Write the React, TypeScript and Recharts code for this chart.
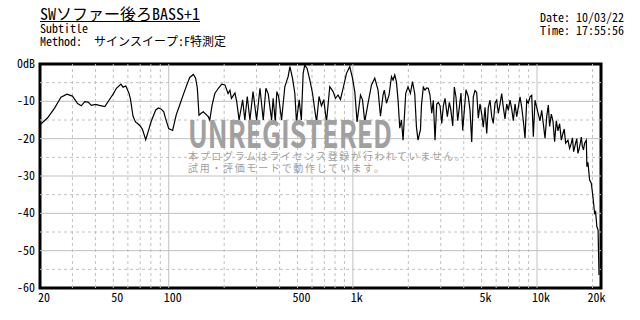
import { LineChart, Line, XAxis, YAxis, ReferenceLine, ReferenceArea } from 'recharts'

// frequency (Hz) / level (dB), grouped 10 per line
const freqs = [
  20, 22, 24, 25, 26, 28, 30, 32, 33.5, 35,
  36.5, 38, 40, 42, 45, 48, 50, 52, 55, 56.5,
  58.5, 61, 62, 64, 66, 68, 70, 72, 75, 78,
  80, 85, 88, 91, 94, 96, 100, 105, 110, 113,
  120, 125, 130, 136, 140, 143, 146, 150, 154, 164,
  167, 172, 178, 186, 194, 202, 210, 215, 219, 229,
  234, 241, 252, 259, 267, 276, 287, 300, 313, 326,
  337, 347, 362, 369, 379, 386.5, 395, 410, 427, 445,
  455, 470, 484, 494, 511, 525, 537, 548, 564, 584,
  604, 621, 635, 655, 675, 695, 719, 749, 781, 804,
  831, 856, 885, 923, 962, 995, 1024, 1054, 1100, 1128,
  1160, 1209, 1262, 1315, 1370, 1412, 1458, 1481, 1522, 1572,
  1620, 1652, 1688, 1724, 1759, 1797, 1835, 1873, 1936, 1993,
  2054, 2106, 2167, 2214, 2258, 2329, 2358, 2412, 2464, 2517,
  2568, 2623, 2680, 2734, 2793, 2853, 2911, 2974, 3038, 3099,
  3165, 3258, 3340, 3399, 3485, 3555, 3631, 3709, 3784, 3865,
  3948, 4028, 4115, 4235, 4326, 4419, 4508, 4605, 4703, 4799,
  4901, 5007, 5108, 5218, 5330, 5438, 5555, 5674, 5789, 5913,
  6039, 6162, 6295, 6430, 6560, 6701, 6845, 6983, 7134, 7287,
  7434, 7593, 7756, 7913, 8084, 8257, 8424, 8604, 8789, 8967,
  9160, 9357, 9546, 9750, 9959, 10160, 10380, 10602, 10817, 11049,
  11286, 11514, 11706, 11957, 12199, 12460, 12727, 12985, 13263, 13547,
  13821, 14050, 14297, 14715, 15030, 15353, 15570, 15800, 16199, 16430,
  16672, 16920, 17178, 17400, 17613, 17870, 18127, 18516, 18656, 18890,
  19295, 19708, 20107, 20541, 20798, 21135, 21455, 21700,
]

const levels = [
  -16.3, -14.4, -11.8, -10.3, -8.9, -8.1, -8.6, -10.6, -11.2, -10.1,
  -10.2, -11.1, -10.8, -11.1, -11.4, -9.3, -8.0, -6.5, -5.4, -6.2,
  -5.9, -8.0, -9.5, -14.0, -15.5, -16.0, -16.6, -17.5, -20.3, -17.5,
  -15.6, -12.3, -11.8, -12.1, -12.8, -14.5, -17.3, -17.8, -13.5, -11.9,
  -8.2, -5.8, -3.6, -2.8, -3.8, -6.5, -13.7, -13.2, -12.8, -14.1,
  -15.0, -11.0, -7.9, -6.5, -5.4, -5.6, -7.9, -7.0, -9.2, -7.8,
  -10.1, -15.0, -9.6, -15.0, -8.7, -15.0, -7.4, -15.0, -6.5, -15.0,
  -6.5, -8.0, -15.0, -9.2, -15.5, -7.4, -8.7, -15.0, -6.1, -3.4,
  -0.7, -3.8, -7.9, -15.5, -9.6, -15.0, -2.5, -0.3, -1.2, -4.3,
  -7.9, -12.3, -15.5, -8.7, -11.2, -9.6, -15.5, -6.1, -7.4, -9.2,
  -8.3, -9.5, -6.5, -2.5, -0.7, -3.8, -7.4, -15.5, -8.3, -9.6,
  -15.5, -10.5, -5.6, -3.8, -7.0, -14.0, -8.3, -7.0, -10.5, -8.3,
  -3.4, -4.3, -2.9, -4.8, -9.6, -17.2, -15.0, -20.4, -7.9, -6.1,
  -7.9, -4.7, -7.9, -16.9, -20.4, -17.5, -11.0, -6.2, -7.0, -6.4,
  -6.5, -8.3, -13.2, -9.7, -20.4, -10.7, -10.3, -11.2, -15.9, -11.2,
  -9.2, -14.1, -10.3, -12.1, -16.6, -6.2, -8.9, -15.2, -11.6, -7.8,
  -17.8, -12.4, -6.9, -8.8, -12.4, -20.9, -8.8, -7.1, -7.6, -14.5,
  -10.7, -13.4, -16.9, -11.6, -18.6, -11.6, -9.7, -14.1, -15.9, -10.5,
  -9.7, -13.2, -10.7, -7.9, -11.6, -14.7, -10.7, -12.4, -9.7, -12.0,
  -15.2, -10.7, -14.1, -11.6, -8.8, -11.6, -15.2, -19.9, -9.7, -10.5,
  -8.8, -8.4, -19.5, -9.7, -11.6, -13.4, -15.2, -12.4, -16.0, -19.9,
  -14.1, -11.0, -16.7, -13.4, -15.2, -20.8, -15.2, -17.9, -16.0, -20.4,
  -18.6, -17.4, -21.2, -20.4, -22.6, -21.2, -19.8, -23.5, -21.2, -20.0,
  -23.9, -22.8, -21.2, -19.6, -22.0, -23.0, -21.2, -20.4, -27.5, -26.3,
  -31.1, -31.9, -35.5, -40.0, -39.6, -43.6, -44.5, -56.5,
]

const xTicks = [20, 50, 100, 500, 1000, 5000, 10000, 20000]
const xTickLabels = ['20', '50', '100', '500', '1k', '5k', '10k', '20k']
const yTicks = [0, -10, -20, -30, -40, -50, -60]
const yTickLabels = ['0dB', '-10', '-20', '-30', '-40', '-50', '-60']

const xMajor = [100, 1000, 10000]
const xMinor = [30, 40, 50, 60, 70, 80, 90, 200, 300, 400, 500, 600, 700, 800, 900, 2000, 3000, 4000, 5000, 6000, 7000, 8000, 9000, 20000]
const yMajor = [-10, -20, -30, -40, -50]
const yMinor = [-5, -15, -25, -35, -45, -55]

const data = freqs.map((f, i) => ({ f, db: levels[i] }))

const FONT = "'Noto Sans Mono CJK JP', 'DejaVu Sans Mono', 'Noto Sans CJK JP', monospace"
const WM_FONT = "'Noto Sans CJK JP', sans-serif"
const GRID = '#c0c0c0'
const X_MAX = 22250

const XTick = (props: any) => {
  const { x, y, payload } = props
  const i = xTicks.indexOf(payload.value)
  return (
    <text x={x + 4} y={y + 14} textAnchor="middle" fontFamily={FONT} fontSize={12} fill="#000">
      {xTickLabels[i]}
    </text>
  )
}

const YTick = (props: any) => {
  const { x, y, payload } = props
  const i = yTicks.indexOf(payload.value)
  return (
    <text x={x - 5} y={y + 4} textAnchor="end" fontFamily={FONT} fontSize={12} fill="#000">
      {yTickLabels[i]}
    </text>
  )
}

export default function App() {
  return (
    <div style={{ position: 'absolute', left: 0, top: 0, width: 640, height: 320, background: '#fff', fontFamily: FONT }}>
      <LineChart width={640} height={320} data={data} margin={{ top: 64, right: 39, bottom: 0, left: 0 }}>
        <XAxis
          dataKey="f"
          type="number"
          scale="log"
          domain={[20, X_MAX]}
          allowDataOverflow
          ticks={xTicks}
          tick={XTick}
          axisLine={false}
          tickLine={false}
          tickSize={0}
          tickMargin={0}
          height={32}
          interval={0}
        />
        <YAxis
          type="number"
          domain={[-60, 0]}
          ticks={yTicks}
          tick={YTick}
          axisLine={false}
          tickLine={false}
          tickSize={0}
          tickMargin={0}
          width={40}
          interval={0}
        />
        {yMinor.map((v) => (
          <ReferenceLine key={'ym' + v} y={v} stroke={GRID} strokeDasharray="3 3" />
        ))}
        {xMinor.map((v) => (
          <ReferenceLine key={'xm' + v} x={v} stroke={GRID} strokeDasharray="3 3" />
        ))}
        {yMajor.map((v) => (
          <ReferenceLine key={'yM' + v} y={v} stroke={GRID} />
        ))}
        {xMajor.map((v) => (
          <ReferenceLine key={'xM' + v} x={v} stroke={GRID} />
        ))}
        <Line dataKey="db" stroke="#000" strokeWidth={1.2} dot={false} isAnimationActive={false} type="linear" />
        <ReferenceArea x1={20} x2={X_MAX} y1={-60} y2={0} fill="none" stroke="#000" strokeWidth={3} ifOverflow="visible" />
      </LineChart>

      <div style={{ position: 'absolute', left: 40, top: 5, fontSize: 16, lineHeight: '16px', textDecoration: 'underline', whiteSpace: 'pre' }}>
        SWソファー後ろBASS+1
      </div>
      <div style={{ position: 'absolute', left: 40, top: 22, fontSize: 12, lineHeight: '12px', whiteSpace: 'pre' }}>Subtitle</div>
      <div style={{ position: 'absolute', left: 40, top: 35, fontSize: 12, lineHeight: '12px', whiteSpace: 'pre' }}>
        {'Method:  サインスイープ:F特測定'}
      </div>
      <div style={{ position: 'absolute', left: 540, top: 10, fontSize: 12, lineHeight: '13px', whiteSpace: 'pre' }}>
        {'Date: 10/03/22\nTime: 17:55:56'}
      </div>

      <svg width={640} height={320} style={{ position: 'absolute', left: 0, top: 0, pointerEvents: 'none' }}>
        <text x={188} y={148} fontSize={38} fontWeight="bold" fill="#a0a0a0" fontFamily={WM_FONT} textLength={204} lengthAdjust="spacingAndGlyphs">
          UNREGISTERED
        </text>
        <text x={188} y={160} fontSize={10} fill="#a0a0a0" fontFamily={WM_FONT} textLength={277} lengthAdjust="spacing">
          本プログラムはライセンス登録が行われていません。
        </text>
        <text x={188} y={172} fontSize={10} fill="#a0a0a0" fontFamily={WM_FONT} textLength={196} lengthAdjust="spacing">
          試用・評価モードで動作しています。
        </text>
      </svg>
    </div>
  )
}
